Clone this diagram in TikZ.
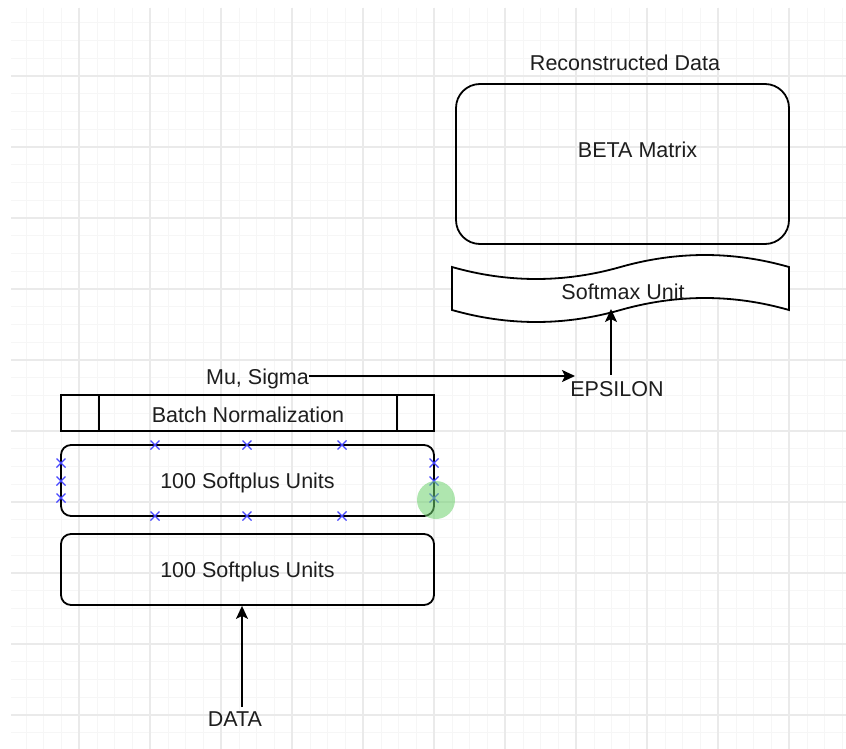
\documentclass[tikz,border=0pt]{standalone}
\usepackage{fontspec}
\setmainfont{Liberation Sans}
\usetikzlibrary{arrows.meta}
\definecolor{gridminor}{RGB}{246,246,246}
\definecolor{gridmajor}{RGB}{234,234,234}
\definecolor{txt}{RGB}{30,30,30}
\definecolor{mark}{RGB}{70,70,255}
\definecolor{hl}{RGB}{110,210,110}
\begin{document}
\begin{tikzpicture}[x=1pt,y=-1pt,
  every node/.style={font=\fontsize{21.5}{25}\selectfont, text=txt, inner sep=0pt},
  box/.style={draw=black, line width=1.8pt, rounded corners=10pt, minimum width=373pt, minimum height=71pt},
  arr/.style={draw=black, line width=1.8pt, -{Stealth[length=13pt,width=12pt,inset=3pt]}},
  xmark/.style={draw=mark, line width=1.3pt},
  lbl/.style={yshift=-2pt}]
\useasboundingbox (0,0) rectangle (846,749);
\fill[white] (0,0) rectangle (846,749);
% grid
\foreach \i in {0,...,47} {
  \pgfmathsetmacro\gx{8.25+17.75*\i}
  \ifdim\gx pt>11pt \draw[gridminor, line width=1pt] (\gx,8) -- (\gx,749);\fi
}
\foreach \i in {0,...,42} {
  \pgfmathsetmacro\gy{5+17.75*\i}
  \ifdim\gy pt>7pt \draw[gridminor, line width=1pt] (11,\gy) -- (846,\gy);\fi
}
\foreach \gx in {79,150,221,292,363,434,505,576,647,718,789}
  \draw[gridmajor, line width=1.2pt] (\gx,8) -- (\gx,749);
\foreach \gy in {76,147,218,289,360,431,502,573,644,715}
  \draw[gridmajor, line width=1.2pt] (11,\gy) -- (846,\gy);

% top label and beta box
\node[lbl] (recon) at (625,61) {Reconstructed Data};
\node[box, rounded corners=24pt, minimum width=333pt, minimum height=160pt] (beta) at (622.5,164) {};
\node[lbl] (betatxt) at (637.5,148) {BETA Matrix};

% softmax tape
\draw[fill=white, line width=1.8pt] (452,267) .. controls (508,283) and (564.2,283) .. (620.5,267)
  .. controls (676.8,251) and (733,251) .. (789,267) -- (789,310)
  .. controls (733,294) and (676.8,294) .. (620.5,310)
  .. controls (564.2,326) and (508,326) .. (452,310) -- cycle;
\node[lbl] (softmax) at (623,290) {Softmax Unit};

% epsilon and mu sigma
\node[lbl] (eps) at (617,387) {EPSILON};
\node[lbl] (mu) at (257.5,377) {Mu, Sigma};
\coordinate (epsin) at (575,376);
\coordinate (epsout) at (611,375);
\coordinate (smin) at (611,309);
\draw[arr] (mu.east |- epsin) -- (epsin);
\draw[arr] (epsout) -- (smin);

% batch normalization
\node[draw=black, line width=1.8pt, minimum width=373pt, minimum height=36pt] (bn) at (247.5,413) {};
\draw[line width=1.8pt] (98.7,395) -- (98.7,431) (396.7,395) -- (396.7,431);
\node[lbl] (bntxt) at (248,413) {Batch Normalization};

% softplus boxes
\node[box] (sp1) at (247.5,480.5) {};
\node[lbl] (sp1txt) at (sp1) {100 Softplus Units};
\node[box] (sp2) at (247.5,569.5) {};
\node[lbl] (sp2txt) at (sp2) {100 Softplus Units};

% selection markers
\foreach \mx in {155,247,342} {
  \foreach \my in {445,516} {
    \draw[xmark] (\mx-4.5,\my-4.5) -- (\mx+4.5,\my+4.5) (\mx-4.5,\my+4.5) -- (\mx+4.5,\my-4.5);
  }
}
\foreach \mx in {61,434} {
  \foreach \my in {463,481,498} {
    \draw[xmark] (\mx-4.5,\my-4.5) -- (\mx+4.5,\my+4.5) (\mx-4.5,\my+4.5) -- (\mx+4.5,\my-4.5);
  }
}
\fill[hl, opacity=0.55] (436,500) circle (19);

% data
\node[lbl] (data) at (235,717) {DATA};
\coordinate (datain) at (242,707);
\draw[arr] (datain) -- (sp2.south -| datain);
\end{tikzpicture}
\end{document}
